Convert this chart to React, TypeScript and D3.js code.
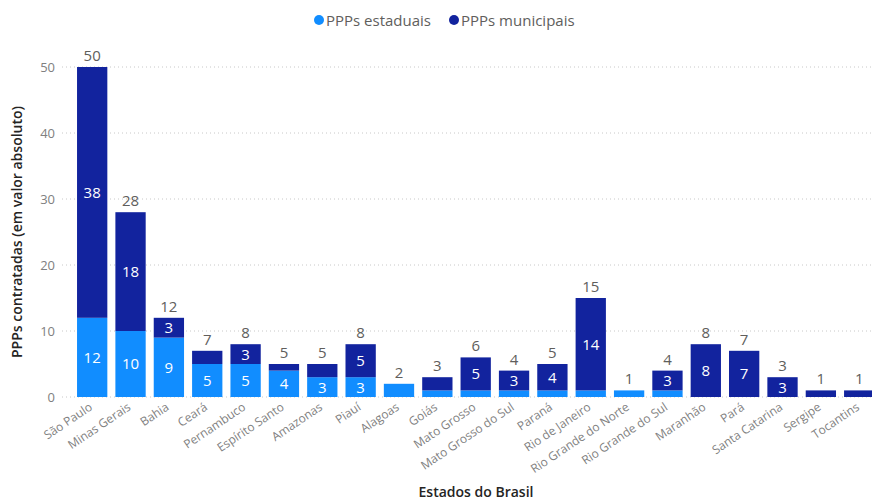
import React, { useEffect } from "react";
import * as d3 from "d3";

const states = [
  "São Paulo", "Minas Gerais", "Bahia", "Ceará", "Pernambuco", "Espírito Santo",
  "Amazonas", "Piauí", "Alagoas", "Goiás", "Mato Grosso", "Mato Grosso do Sul",
  "Paraná", "Rio de Janeiro", "Rio Grande do Norte", "Rio Grande do Sul",
  "Maranhão", "Pará", "Santa Catarina", "Sergipe", "Tocantins",
];
const estaduais = [12, 10, 9, 5, 5, 4, 3, 3, 2, 1, 1, 1, 1, 1, 1, 1, 0, 0, 0, 0, 0];
const municipais = [38, 18, 3, 2, 3, 1, 2, 5, 0, 2, 5, 3, 4, 14, 0, 3, 8, 7, 3, 1, 1];
const yTicks = [0, 10, 20, 30, 40, 50];
const seriesNames = ["PPPs estaduais", "PPPs municipais"];
const colors = ["#118DFF", "#12239E"];

const W = 872;
const H = 501;
const FONT = "'Open Sans', 'Noto Sans', sans-serif";

export default function App() {
  useEffect(() => {
    document.body.style.margin = "0";
  }, []);

  const x = d3.scaleBand<string>().domain(states).range([73.2, 878.2]).paddingInner(0.21).paddingOuter(0.1);
  const y = d3.scaleLinear().domain([0, 50]).range([397, 67]);

  const rows = states.map((s, i) => ({ state: s, est: estaduais[i], mun: municipais[i] }));
  const stack = d3.stack<any>().keys(["est", "mun"])(rows as any);

  return (
    <svg width={W} height={H} style={{ display: "block", background: "#fff" }} fontFamily={FONT}>
      {/* legend */}
      <g>
        <circle cx={319} cy={20} r={5} fill={colors[0]} />
        <text x={326} y={26} fontSize={15} fill="#605E5C">{seriesNames[0]}</text>
        <circle cx={454} cy={20} r={5} fill={colors[1]} />
        <text x={461} y={26} fontSize={15} fill="#605E5C">{seriesNames[1]}</text>
      </g>
      {/* gridlines */}
      {yTicks.map((t) => (
        <g key={t}>
          <line x1={62} x2={872} y1={y(t)} y2={y(t)} stroke="#C8C8C8" strokeDasharray="1,3" strokeWidth={1} />
          <text x={55} y={y(t)} dy="0.35em" textAnchor="end" fontSize={13} fill="#808080">{t}</text>
        </g>
      ))}
      {/* bars */}
      {stack.map((layer, li) => (
        <g key={li}>
          {layer.map((d, i) => {
            const h = y(d[0]) - y(d[1]);
            if (h <= 0) return null;
            return (
              <rect key={i} x={x(states[i])} y={y(d[1])} width={x.bandwidth()} height={h} fill={colors[li]} />
            );
          })}
        </g>
      ))}
      {/* inner labels */}
      {stack.map((layer, li) => (
        <g key={"l" + li}>
          {layer.map((d, i) => {
            const v = d[1] - d[0];
            const h = y(d[0]) - y(d[1]);
            if (h < 16) return null;
            return (
              <text key={i} x={(x(states[i]) as number) + x.bandwidth() / 2} y={(y(d[0]) + y(d[1])) / 2} dy="0.36em"
                textAnchor="middle" fontSize={15} fill="#fff">{v}</text>
            );
          })}
        </g>
      ))}
      {/* totals */}
      {rows.map((r, i) => (
        <text key={"t" + i} x={(x(r.state) as number) + x.bandwidth() / 2} y={y(r.est + r.mun) - 6}
          textAnchor="middle" fontSize={15} fill="#605E5C">{r.est + r.mun}</text>
      ))}
      {/* x tick labels */}
      {states.map((s) => (
        <text key={s} transform={`translate(${(x(s) as number) + x.bandwidth() / 2 + 1},${409}) rotate(-34)`}
          textAnchor="end" fontSize={12} fill="#808080">{s}</text>
      ))}
      {/* axis titles */}
      <text transform={`translate(22,232) rotate(-90)`} textAnchor="middle" fontSize={14} fontWeight={600} fill="#252423">
        PPPs contratadas (em valor absoluto)
      </text>
      <text x={476} y={497} textAnchor="middle" fontSize={14} fontWeight={600} fill="#252423">Estados do Brasil</text>
    </svg>
  );
}
